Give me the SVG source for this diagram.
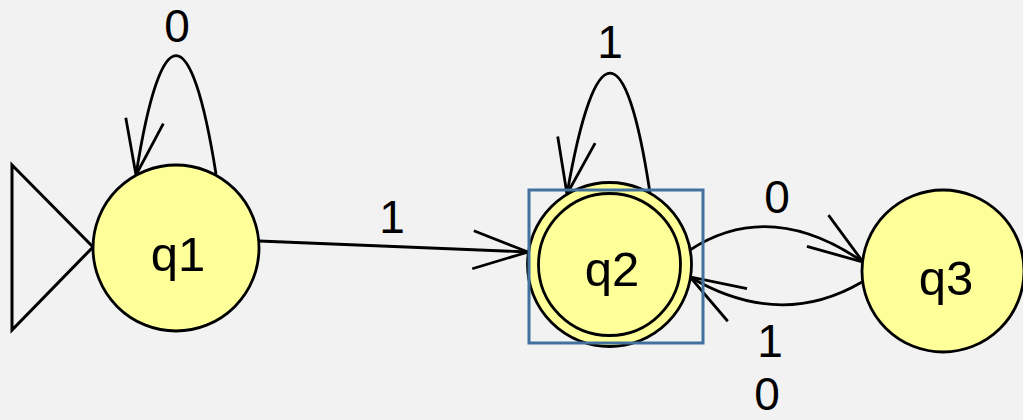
<svg xmlns="http://www.w3.org/2000/svg" width="1023" height="420" viewBox="0 0 1023 420">
  <style>
    .node { fill: #ffff99; stroke: #000; stroke-width: 2.8; }
    .edge { fill: none; stroke: #000; stroke-width: 2.8; marker-end: url(#arrow); }
    .nlabel { font-family: "Liberation Sans", Arial, sans-serif; font-size: 49px; fill: #000; text-anchor: middle; }
    .elabel { font-family: "Liberation Sans", Arial, sans-serif; font-size: 46px; fill: #000; text-anchor: middle; }
  </style>
  <defs>
    <marker id="arrow" markerUnits="userSpaceOnUse" markerWidth="80" markerHeight="60" refX="0" refY="0" orient="auto" overflow="visible">
      <path d="M -55 -19 L 0 0 L -55 19" fill="none" stroke="#000" stroke-width="2.8"/>
    </marker>
  </defs>
  <rect x="0" y="0" width="1023" height="420" fill="#f2f2f2"/>

  <g id="start">
    <polygon points="12,165 93,247 12,330" fill="none" stroke="#000" stroke-width="3"/>
  </g>

  <g id="connectors">
    <path class="edge" d="M 216 174 C 191 16 161 16 136 175"/>
    <path class="edge" d="M 650 193 C 626 33 595 33 567 194"/>
    <path class="edge" d="M 259 241 L 528 252"/>
    <path class="edge" d="M 690 250 Q 770 198 863 262"/>
    <path class="edge" d="M 862 282 Q 780 330 690 277"/>
  </g>

  <g id="q1">
    <circle class="node" cx="176" cy="248" r="83"/>
    <text class="nlabel" x="178" y="271">q1</text>
  </g>

  <g id="q2">
    <circle class="node" cx="609.5" cy="264.5" r="82"/>
    <circle class="node" cx="609.5" cy="264.5" r="71"/>
    <text class="nlabel" x="612" y="286">q2</text>
    <rect x="529" y="190" width="174" height="153" fill="none" stroke="#41719c" stroke-width="3"/>
  </g>

  <g id="q3">
    <circle class="node" cx="943" cy="271" r="81"/>
    <text class="nlabel" x="946" y="295">q3</text>
  </g>

  <g id="labels">
    <text class="elabel" x="177" y="42">0</text>
    <text class="elabel" x="610" y="58">1</text>
    <text class="elabel" x="392" y="233">1</text>
    <text class="elabel" x="777" y="213">0</text>
    <text class="elabel" x="770" y="357">1</text>
    <text class="elabel" x="767" y="410">0</text>
  </g>
</svg>
